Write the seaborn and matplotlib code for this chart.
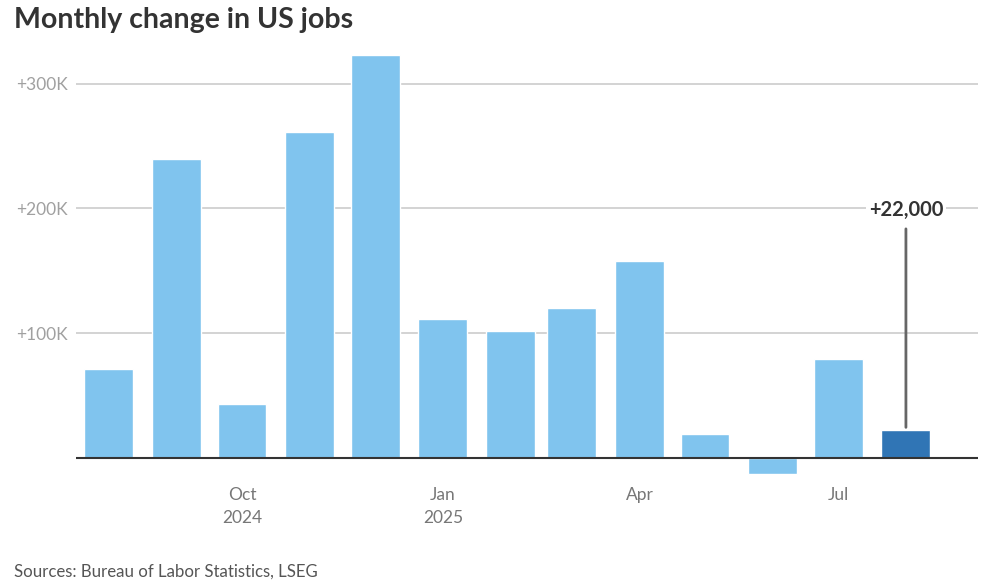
import matplotlib
matplotlib.use("Agg")
import matplotlib.pyplot as plt
import matplotlib.dates as mdates
import seaborn as sns
import pandas as pd
import datetime as dt

months = ["2024-08", "2024-09", "2024-10", "2024-11", "2024-12", "2025-01",
          "2025-02", "2025-03", "2025-04", "2025-05", "2025-06", "2025-07", "2025-08"]
jobs = [71000, 240000, 43000, 261000, 323000, 111000,
        102000, 120000, 158000, 19000, -13000, 79000, 22000]
highlight = ["past"] * 12 + ["latest"]
ytick_vals = [100000, 200000, 300000]
ytick_labels = ["+100K", "+200K", "+300K"]
xtick_dates = ["2024-10", "2025-01", "2025-04", "2025-07"]
xtick_labels = ["Oct\n2024", "Jan\n2025", "Apr", "Jul"]
annotation = "+22,000"

def dnum(s):
    return mdates.date2num(dt.datetime.strptime(s + "-01", "%Y-%m-%d"))

df = pd.DataFrame({"x": [dnum(m) for m in months], "jobs": jobs, "hl": highlight})

sns.set_style("white")
plt.rcParams["font.family"] = ["Lato", "DejaVu Sans"]

fig = plt.figure(figsize=(9.91, 5.82), dpi=100)
ax = fig.add_axes([76/991, 102/582, 902/991, 440/582])

for v in ytick_vals:
    ax.axhline(v, color="#cccccc", lw=1.2, zorder=0)

sns.barplot(data=df, x="x", y="jobs", hue="hl", native_scale=True, dodge=False,
            palette={"past": "#80C4EE", "latest": "#3075B5"}, width=0.8,
            legend=False, ax=ax, saturation=1, zorder=2)

ax.axhline(0, color="#333333", lw=1.5, zorder=3)

x0 = mdates.date2num(dt.datetime(2024, 7, 17))
x1 = mdates.date2num(dt.datetime(2025, 9, 3))
ax.set_xlim(x0, x1)
ax.set_ylim(-17700, 335000)

ax.set_yticks(ytick_vals)
ax.set_yticklabels(ytick_labels, color="#a0a0a0", fontsize=12.5)
ax.set_xticks([dnum(d) for d in xtick_dates])
ax.set_xticklabels(xtick_labels, color="#777777", fontsize=12.5, linespacing=1.55)
ax.tick_params(axis="y", length=0, pad=6)
ax.tick_params(axis="x", length=0, pad=5)
ax.set_xlabel("")
ax.set_ylabel("")
for s in ax.spines.values():
    s.set_visible(False)

# annotation for latest bar
lx = df["x"].iloc[-1]
ly = df["jobs"].iloc[-1]
ax.annotate(annotation, xy=(lx, ly + 2500), xytext=(lx, 198500),
            ha="center", va="center", fontsize=14.5, fontweight="bold", color="#333333",
            bbox=dict(boxstyle="square,pad=0.15", fc="white", ec="none"),
            arrowprops=dict(arrowstyle="-", color="#666666", lw=2, shrinkA=4, shrinkB=0),
            zorder=5)

fig.text(14/991, 1 - 20/582, "Monthly change in US jobs", fontsize=20.5, fontweight="bold",
         color="#333333", va="center", ha="left")
fig.text(14/991, 1 - 572/582, "Sources: Bureau of Labor Statistics, LSEG", fontsize=12.1,
         color="#555555", va="center", ha="left")

fig.savefig("out.png", dpi=100)
